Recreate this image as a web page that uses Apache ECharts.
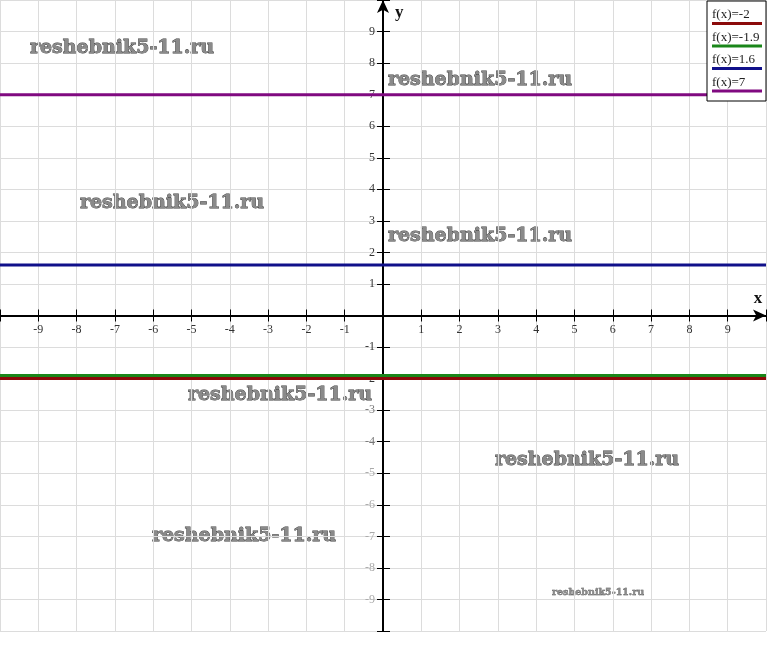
<!DOCTYPE html>
<html>
<head>
<meta charset="utf-8">
<script src="https://cdn.jsdelivr.net/npm/echarts@6/dist/echarts.min.js"></script>
<style>
  html, body { margin: 0; padding: 0; background: #fff; }
  #chart { width: 768px; height: 664px; }
</style>
</head>
<body>
<div id="chart"></div>
<script>
// data
const names = ["f(x)=-2", "f(x)=-1.9", "f(x)=1.6", "f(x)=7"];
const values = [-2, -1.9, 1.6, 7];
const colors = ["#8b0a0a", "#1a861a", "#10108a", "#800a80"];
const xRange = [-10, 10];
const yRange = [-10, 10];
const tickStep = 1;
const watermark = "reshebnik5-11.ru";

const serif = "'Liberation Serif', 'DejaVu Serif', serif";

// plot area
const gridW = 766;
const gridH = 631;
// move the axes from the grid edge to the origin
const xAxisShift = -gridH * (0 - yRange[0]) / (yRange[1] - yRange[0]);
const yAxisShift = -gridW * (0 - xRange[0]) / (xRange[1] - xRange[0]);

function tickLabel(v) {
  if (v === 0 || Math.abs(v) >= 10) return "";
  return String(v);
}
// the scan fades some of the numbers
function xLabelColor(v) {
  if (v === 4) return "#999";
  if (v === 5 || v === 6) return "#bbb";
  return "#333";
}
function yLabelColor(v) {
  if (v <= -5) return "#aaa";
  if (v <= -3) return "#777";
  if (v === 3) return "#bbb";
  if (v === 2 || v === 4) return "#888";
  return "#333";
}

const chart = echarts.init(document.getElementById("chart"));

const series = values.map((v, i) => ({
  name: names[i],
  type: "line",
  xAxisIndex: 0,
  yAxisIndex: 0,
  symbol: "none",
  silent: true,
  z: 2,
  color: colors[i],
  lineStyle: { width: 3, color: colors[i] },
  data: xRange.map((x) => [x, v]),
}));

// watermarks
const marks = [
  [30, 48, 19], [388, 80, 19], [80, 203, 19], [388, 236, 19],
  [188, 395, 19], [495, 460, 19], [152, 536, 19], [552, 593, 9.5],
];

const tickStyle = { color: "#000", width: 1 };

const option = {
  animation: false,
  backgroundColor: "#fff",
  grid: { left: 0, width: gridW, top: 0, height: gridH, outerBoundsMode: "none", containLabel: false },
  xAxis: [
    {
      type: "value",
      min: xRange[0],
      max: xRange[1],
      interval: tickStep,
      position: "bottom",
      offset: xAxisShift,
      name: "x",
      nameLocation: "end",
      nameGap: -8,
      nameTextStyle: {
        fontFamily: serif, fontWeight: "bold", fontSize: 17, color: "#111",
        align: "center", verticalAlign: "bottom", padding: [0, 0, 8, 0],
      },
      axisLine: {
        onZero: false,
        symbol: ["none", "arrow"],
        symbolSize: [9, 13],
        lineStyle: { color: "#000", width: 2 },
      },
      axisTick: { show: true, length: 6, lineStyle: tickStyle },
      axisLabel: {
        formatter: tickLabel, fontFamily: serif, fontSize: 12,
        color: xLabelColor, margin: 8,
      },
      splitLine: { show: true, lineStyle: { color: "#dcdcdc", width: 1 } },
      z: 1,
    },
    {
      type: "value",
      min: xRange[0],
      max: xRange[1],
      interval: tickStep,
      position: "bottom",
      offset: xAxisShift,
      axisLine: { show: false, onZero: false },
      axisTick: { show: true, inside: true, length: 6, lineStyle: tickStyle },
      axisLabel: { show: false },
      splitLine: { show: false },
      z: 1,
    },
  ],
  yAxis: [
    {
      type: "value",
      min: yRange[0],
      max: yRange[1],
      interval: tickStep,
      position: "left",
      offset: yAxisShift,
      name: "y",
      nameLocation: "end",
      nameGap: -13,
      nameTextStyle: {
        fontFamily: serif, fontWeight: "bold", fontSize: 17, color: "#111",
        align: "left", verticalAlign: "middle", padding: [0, 0, 0, 12],
      },
      axisLine: {
        onZero: false,
        symbol: ["none", "arrow"],
        symbolSize: [9, 13],
        lineStyle: { color: "#000", width: 2 },
      },
      axisTick: { show: true, length: 6, lineStyle: tickStyle },
      axisLabel: {
        formatter: tickLabel, fontFamily: serif, fontSize: 12,
        color: yLabelColor, margin: 8,
      },
      splitLine: { show: true, lineStyle: { color: "#dcdcdc", width: 1 } },
      z: 1,
    },
    {
      type: "value",
      min: yRange[0],
      max: yRange[1],
      interval: tickStep,
      position: "left",
      offset: yAxisShift,
      axisLine: { show: false, onZero: false },
      axisTick: { show: true, inside: true, length: 7, lineStyle: tickStyle },
      axisLabel: { show: false },
      splitLine: { show: false },
      z: 1,
    },
  ],
  legend: [
    {
      // coloured lines
      orient: "vertical",
      left: 707,
      top: 17,
      icon: "rect",
      itemWidth: 50,
      itemHeight: 3,
      itemGap: 19.5,
      formatter: () => "",
      selectedMode: false,
      z: 6,
      data: names,
    },
    {
      // labels above the lines
      orient: "vertical",
      left: 701,
      top: 3,
      icon: "rect",
      itemWidth: 1,
      itemHeight: 10,
      itemGap: 8.5,
      itemStyle: { opacity: 0 },
      selectedMode: false,
      textStyle: { fontFamily: serif, fontSize: 13, color: "#222", lineHeight: 14 },
      z: 6,
      data: names,
    },
  ],
  graphic: [
    {
      type: "rect",
      z: 5,
      shape: { x: 707, y: 1, width: 59, height: 100 },
      style: { fill: "#fff", stroke: "#000", lineWidth: 1 },
    },
  ].concat(
    marks.map((m) => ({
      type: "text",
      z: 1,
      x: m[0],
      y: m[1],
      style: {
        text: watermark,
        font: "bold " + m[2] + "px 'DejaVu Serif', serif",
        fill: "#8a8a8a",
        stroke: "#3a3a3a",
        lineWidth: m[2] > 10 ? 0.8 : 0.4,
        verticalAlign: "middle",
      },
    }))
  ),
  series: series,
};

chart.setOption(option);
</script>
</body>
</html>
